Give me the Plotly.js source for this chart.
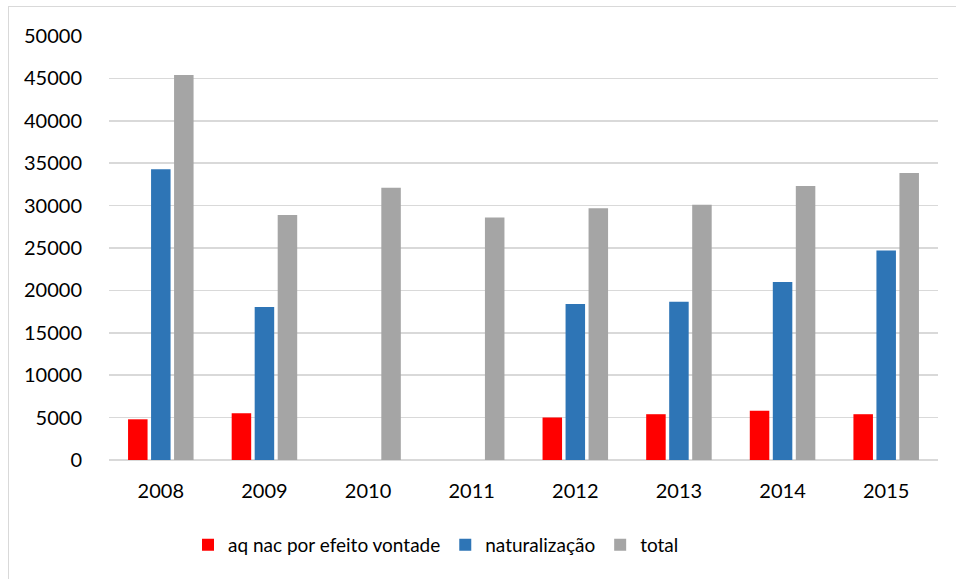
<!DOCTYPE html>
<html>
<head>
<meta charset="utf-8">
<script src="https://cdn.plot.ly/plotly-3.0.1.min.js"></script>
<style>
html,body{margin:0;padding:0;background:#fff;}
#wrap{position:relative;width:956px;height:579px;overflow:hidden;}
#frame{position:absolute;left:8px;top:6px;width:1000px;height:700px;border:1px solid #d9d9d9;box-sizing:border-box;pointer-events:none;}
#chart{position:absolute;left:0;top:0;width:956px;height:579px;}
</style>
</head>
<body>
<div id="wrap">
<div id="chart"></div>
<div id="frame"></div>
</div>
<script>
const years = ['2008','2009','2010','2011','2012','2013','2014','2015'];
const vontade = [4800, 5500, null, null, 5000, 5400, 5800, 5400];
const naturalizacao = [34300, 18050, null, null, 18400, 18650, 21000, 24700];
const total = [45400, 28900, 32100, 28600, 29700, 30100, 32300, 33850];
const seriesNames = ['aq nac por efeito vontade', 'naturalização', 'total'];
const yTicks = [0,5000,10000,15000,20000,25000,30000,35000,40000,45000,50000];

const fam = 'Lato, "Open Sans", "Liberation Sans", sans-serif';
const tickFont = {family: fam, size: 20, color: '#000'};
const legendFont = {family: fam, size: 19, color: '#000'};

const traces = [
  {type:'bar', x: years, y: vontade, name: seriesNames[0], marker:{color:'#ff0000'}},
  {type:'bar', x: years, y: naturalizacao, name: seriesNames[1], marker:{color:'#2e75b6'}},
  {type:'bar', x: years, y: total, name: seriesNames[2], marker:{color:'#a5a5a5'}}
];

const layout = {
  width: 956, height: 579,
  margin: {l:109, r:18, t:36, b:119, pad:0},
  paper_bgcolor:'rgba(0,0,0,0)', plot_bgcolor:'#fff',
  font: tickFont,
  barmode:'group', bargap:0.334, bargroupgap:0.152,
  showlegend:true,
  legend:{orientation:'h', x:0.0953, xanchor:'left', y:-0.2, yanchor:'middle', font:legendFont, itemwidth:30, traceorder:'normal'},
  xaxis:{type:'category', showgrid:false, zeroline:false, showline:false, ticks:'outside', ticklen:13, tickcolor:'rgba(0,0,0,0)', tickfont:tickFont},
  yaxis:{range:[0,50000], tickvals:yTicks, ticktext:yTicks.map(String), showgrid:true, gridcolor:'#d9d9d9', gridwidth:1.5, zeroline:true, zerolinecolor:'#d9d9d9', zerolinewidth:1.5, showline:false, ticks:'outside', ticklen:22, tickcolor:'rgba(0,0,0,0)', tickfont:tickFont}
};

Plotly.newPlot('chart', traces, layout, {displayModeBar:false, staticPlot:true});
</script>
</body>
</html>
